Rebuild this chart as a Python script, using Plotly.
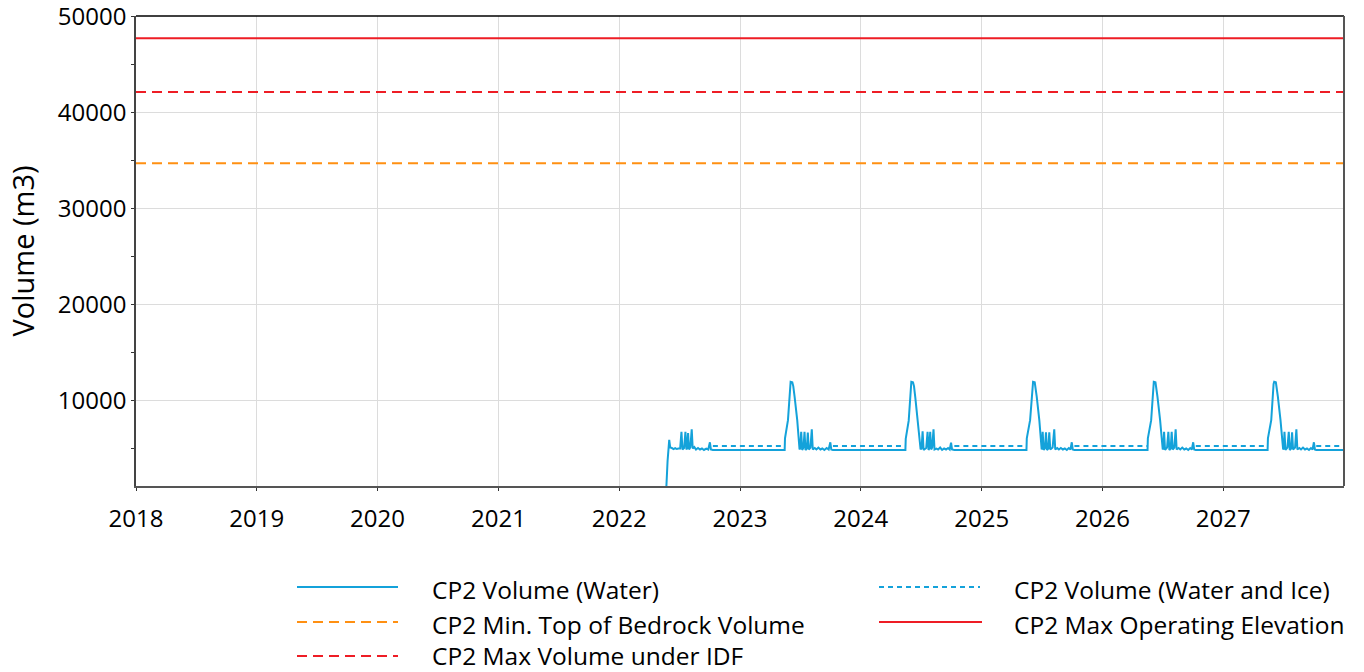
import plotly.graph_objects as go

# ---------------- DATA ----------------
water_2022_dates = ["2022-05-22", "2022-05-25", "2022-05-27", "2022-06-01", "2022-06-04", "2022-06-09",
                    "2022-06-14", "2022-06-19", "2022-06-24", "2022-06-29", "2022-07-04", "2022-07-08",
                    "2022-07-11", "2022-07-16", "2022-07-20", "2022-07-23", "2022-07-25", "2022-07-28",
                    "2022-07-31", "2022-08-04", "2022-08-08", "2022-08-11", "2022-08-16", "2022-08-21",
                    "2022-08-27", "2022-09-02", "2022-09-08", "2022-09-14", "2022-09-21", "2022-09-27",
                    "2022-10-02", "2022-10-05", "2022-10-11"]
water_2022_values = [0, 2600, 3700, 5900, 5100, 5050,
                     4950, 5050, 4950, 5000, 5000, 6750,
                     4900, 5050, 6750, 4900, 5000, 6600,
                     4900, 5150, 7000, 5000, 5150, 4900,
                     5050, 4900, 5000, 4850, 5000, 4900,
                     5650, 4900, 4840]

water_2023_dates = ["2023-05-16", "2023-05-17", "2023-05-26", "2023-06-01", "2023-06-03", "2023-06-08",
                    "2023-06-11", "2023-06-15", "2023-06-23", "2023-06-30", "2023-07-02", "2023-07-05",
                    "2023-07-08", "2023-07-12", "2023-07-15", "2023-07-18", "2023-07-22", "2023-07-25",
                    "2023-07-28", "2023-08-02", "2023-08-06", "2023-08-09", "2023-08-15", "2023-08-20",
                    "2023-08-26", "2023-09-01", "2023-09-07", "2023-09-13", "2023-09-20", "2023-09-26",
                    "2023-10-01", "2023-10-04", "2023-10-09"]
water_2023_values = [4840, 6050, 7950, 11700, 11950, 11900,
                     11500, 10400, 7950, 4900, 5050, 6750,
                     4850, 5100, 6750, 4850, 5000, 6650,
                     4900, 5100, 7000, 4900, 5050, 4900,
                     5100, 4900, 5000, 4850, 5050, 4900,
                     5650, 4900, 4840]

water_2024_dates = ["2024-05-15", "2024-05-16", "2024-05-25", "2024-05-31", "2024-06-02", "2024-06-07",
                    "2024-06-10", "2024-06-14", "2024-06-22", "2024-06-30", "2024-07-03", "2024-07-06",
                    "2024-07-09", "2024-07-17", "2024-07-21", "2024-07-24", "2024-07-26", "2024-07-29",
                    "2024-08-01", "2024-08-04", "2024-08-08", "2024-08-11", "2024-08-17", "2024-08-22",
                    "2024-08-28", "2024-09-03", "2024-09-09", "2024-09-15", "2024-09-21", "2024-09-26",
                    "2024-09-30", "2024-10-03", "2024-10-10"]
water_2024_values = [4840, 6000, 7900, 11700, 11950, 11900,
                     11500, 10300, 7900, 4900, 5050, 6800,
                     4850, 5050, 6750, 4850, 5000, 6750,
                     4900, 5100, 7000, 4900, 5000, 4900,
                     5100, 4850, 5000, 4900, 5050, 4900,
                     5600, 4900, 4840]

water_2025_dates = ["2025-05-16", "2025-05-17", "2025-05-27", "2025-06-03", "2025-06-05", "2025-06-10",
                    "2025-06-12", "2025-06-16", "2025-06-24", "2025-07-01", "2025-07-02", "2025-07-04",
                    "2025-07-07", "2025-07-11", "2025-07-14", "2025-07-17", "2025-07-21", "2025-07-24",
                    "2025-07-27", "2025-08-03", "2025-08-08", "2025-08-11", "2025-08-17", "2025-08-22",
                    "2025-08-28", "2025-09-03", "2025-09-09", "2025-09-15", "2025-09-21", "2025-09-26",
                    "2025-09-30", "2025-10-03", "2025-10-08"]
water_2025_values = [4840, 6050, 7950, 11700, 11950, 11900,
                     11500, 10400, 7900, 4900, 5000, 6750,
                     4850, 5050, 6700, 4850, 5000, 6700,
                     4900, 5100, 7000, 4900, 5050, 4900,
                     5050, 4900, 5000, 4850, 5050, 4900,
                     5650, 4900, 4840]

water_2026_dates = ["2026-05-17", "2026-05-18", "2026-05-28", "2026-06-03", "2026-06-05", "2026-06-10",
                    "2026-06-12", "2026-06-16", "2026-06-24", "2026-07-02", "2026-07-04", "2026-07-06",
                    "2026-07-09", "2026-07-15", "2026-07-19", "2026-07-22", "2026-07-26", "2026-07-29",
                    "2026-08-01", "2026-08-06", "2026-08-10", "2026-08-13", "2026-08-19", "2026-08-24",
                    "2026-08-30", "2026-09-05", "2026-09-11", "2026-09-17", "2026-09-23", "2026-09-28",
                    "2026-10-02", "2026-10-05", "2026-10-10"]
water_2026_values = [4840, 6050, 7950, 11700, 11950, 11900,
                     11500, 10400, 7950, 4900, 5050, 6750,
                     4850, 5100, 6750, 4850, 5000, 6750,
                     4900, 5100, 7000, 4900, 5050, 4900,
                     5100, 4900, 5000, 4850, 5050, 4900,
                     5650, 4900, 4840]

water_2027_dates = ["2027-05-15", "2027-05-16", "2027-05-26", "2027-06-02", "2027-06-04", "2027-06-09",
                    "2027-06-11", "2027-06-15", "2027-06-23", "2027-07-01", "2027-07-03", "2027-07-05",
                    "2027-07-08", "2027-07-14", "2027-07-18", "2027-07-21", "2027-07-25", "2027-07-28",
                    "2027-07-31", "2027-08-06", "2027-08-10", "2027-08-13", "2027-08-19", "2027-08-24",
                    "2027-08-30", "2027-09-05", "2027-09-11", "2027-09-17", "2027-09-23", "2027-09-28",
                    "2027-10-02", "2027-10-05", "2027-10-09", "2027-12-31"]
water_2027_values = [4840, 6050, 7950, 11700, 11950, 11900,
                     11500, 10400, 7950, 4900, 5050, 6750,
                     4850, 5100, 6750, 4850, 5000, 6700,
                     4900, 5100, 7000, 4900, 5050, 4900,
                     5100, 4900, 5000, 4850, 5050, 4900,
                     5650, 4900, 4840, 4840]

# Water and Ice: only differs from Water during the ice season (None = gap)
ice_dates = ["2022-10-11", "2023-05-16", None,
             "2023-10-09", "2024-05-15", None,
             "2024-10-10", "2025-05-16", None,
             "2025-10-08", "2026-05-17", None,
             "2026-10-10", "2027-05-15", None,
             "2027-10-09", "2027-12-31"]
ice_values = [5260, 5260, None,
              5260, 5260, None,
              5260, 5260, None,
              5260, 5260, None,
              5260, 5260, None,
              5260, 5260]

limit_dates = ["2018-01-01", "2028-01-01"]
bedrock_volume = 34700
idf_volume = 42100
max_operating = 47700

year_ticks = ["2018", "2019", "2020", "2021", "2022", "2023", "2024", "2025", "2026", "2027"]
y_ticks = [10000, 20000, 30000, 40000, 50000]

names = {
    "water": "CP2 Volume (Water)",
    "ice": "CP2 Volume (Water and Ice)",
    "bedrock": "CP2 Min. Top of Bedrock Volume",
    "maxop": "CP2 Max Operating Elevation",
    "idf": "CP2 Max Volume under IDF",
}

# ---------------- STYLE ----------------
BLUE = "#14A2DA"
ORANGE = "#FF9012"
RED = "#EE1D25"
FONT = "Open Sans"
styles = {
    "water": dict(color=BLUE, width=2, dash="solid"),
    "ice": dict(color=BLUE, width=2, dash="5px,4px"),
    "bedrock": dict(color=ORANGE, width=2, dash="10px,6px"),
    "maxop": dict(color=RED, width=2, dash="solid"),
    "idf": dict(color=RED, width=2, dash="10px,6px"),
}

water_dates = (water_2022_dates + water_2023_dates + water_2024_dates +
               water_2025_dates + water_2026_dates + water_2027_dates)
water_values = (water_2022_values + water_2023_values + water_2024_values +
                water_2025_values + water_2026_values + water_2027_values)

fig = go.Figure()
fig.add_trace(go.Scatter(x=limit_dates, y=[bedrock_volume] * 2, mode="lines",
                         name=names["bedrock"], line=styles["bedrock"], showlegend=False))
fig.add_trace(go.Scatter(x=limit_dates, y=[idf_volume] * 2, mode="lines",
                         name=names["idf"], line=styles["idf"], showlegend=False))
fig.add_trace(go.Scatter(x=limit_dates, y=[max_operating] * 2, mode="lines",
                         name=names["maxop"], line=styles["maxop"], showlegend=False))
fig.add_trace(go.Scatter(x=water_dates, y=water_values, mode="lines",
                         name=names["water"], line=styles["water"], showlegend=False))
fig.add_trace(go.Scatter(x=ice_dates, y=ice_values, mode="lines", connectgaps=False,
                         name=names["ice"], line=styles["ice"], showlegend=False))

# plot area in pixels
L, R, T, B = 136, 1344, 16, 486
W, H = 1364, 672


def px(x):
    return (x - L) / (R - L)


def py(y):
    return (B - y) / (B - T)


# manual legend (two columns, long line samples like the reference)
legend_layout = [
    ("water", 297, 398, 430, 587, 590),
    ("bedrock", 297, 398, 430, 622, 624),
    ("idf", 297, 398, 430, 656, 655),
    ("ice", 879, 980, 1012, 587, 590),
    ("maxop", 879, 982, 1012, 622, 624),
]
for key, x0, x1, xt, yl, yt in legend_layout:
    st = styles[key]
    fig.add_shape(type="line", xref="paper", yref="paper",
                  x0=px(x0), x1=px(x1), y0=py(yl), y1=py(yl),
                  line=dict(color=st["color"], width=st["width"], dash=st["dash"]))
    fig.add_annotation(xref="paper", yref="paper", x=px(xt), y=py(yt),
                       text=names[key], showarrow=False, xanchor="left", yanchor="middle",
                       font=dict(family=FONT, size=24.5, color="#000000"))

fig.update_layout(
    width=W, height=H,
    margin=dict(l=L, r=W - R, t=T, b=H - B, autoexpand=False),
    paper_bgcolor="white", plot_bgcolor="white",
    font=dict(family=FONT, size=24, color="#000000"),
    showlegend=False,
)
fig.update_xaxes(
    type="date", range=["2018-01-01", "2027-12-31 23:00"],
    tickvals=[y + "-01-01" for y in year_ticks], ticktext=year_ticks,
    showgrid=True, gridcolor="#DCDCDC", gridwidth=1,
    showline=True, linecolor="#555555", linewidth=1.5, mirror=False,
    ticks="outside", ticklen=3, tickcolor="#333333",
    tickfont=dict(family=FONT, size=24, color="#000000"),
    ticklabelstandoff=7, ticklabeloverflow="allow",
    zeroline=False, automargin=False,
)
fig.update_yaxes(
    range=[1100, 50020],
    tickvals=y_ticks, ticktext=[str(v) for v in y_ticks],
    showgrid=True, gridcolor="#DCDCDC", gridwidth=1,
    showline=True, linecolor="#444444", linewidth=1.5,
    ticks="outside", ticklen=3, tickcolor="#333333",
    minor=dict(tickvals=[5000, 15000, 25000, 35000, 45000], ticks="outside", ticklen=3,
               tickcolor="#333333", showgrid=False),
    tickfont=dict(family=FONT, size=24, color="#000000"),
    ticklabeloverflow="allow",
    title=dict(text="Volume (m3)", font=dict(family=FONT, size=29, color="#000000"), standoff=15),
    zeroline=False, automargin=False,
)
# top and right frame lines
fig.add_shape(type="line", xref="paper", yref="paper", x0=0, x1=1, y0=1, y1=1,
              line=dict(color="#000000", width=1.5))
fig.add_shape(type="line", xref="paper", yref="paper", x0=1, x1=1, y0=0, y1=1,
              line=dict(color="#555555", width=2))

fig.write_html("out.html", config={"displayModeBar": False},
               post_script="document.body.style.margin='0px';")
